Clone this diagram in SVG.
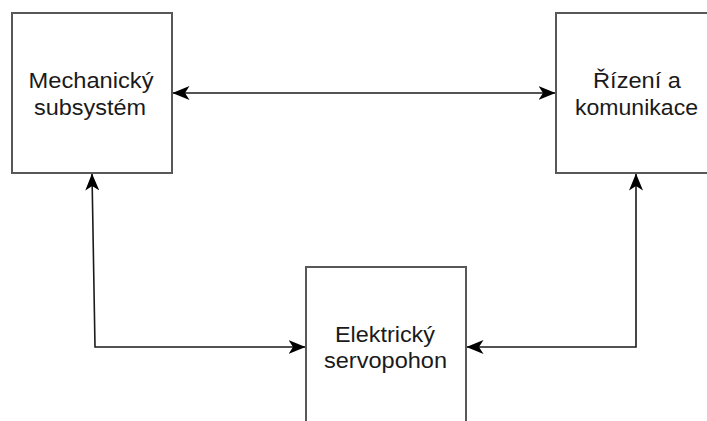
<svg xmlns="http://www.w3.org/2000/svg" width="707" height="421" viewBox="0 0 707 421">
  <defs>
    <marker id="arrow" viewBox="0 0 17 14" refX="16.5" refY="7" markerWidth="17" markerHeight="14" markerUnits="userSpaceOnUse" orient="auto-start-reverse">
      <path d="M17,7 L0,0 L4.5,7 L0,14 Z" fill="#000"/>
    </marker>
    <style>
      .box { fill: #ffffff; stroke: #585858; stroke-width: 2; }
      .link { fill: none; stroke: #1a1a1a; stroke-width: 1.6; marker-start: url(#arrow); marker-end: url(#arrow); }
      .label { font-family: "Liberation Sans", Arial, sans-serif; font-size: 22px; fill: #1a1a1a; text-anchor: middle; }
    </style>
  </defs>
  <rect width="707" height="421" fill="#ffffff"/>

  <g id="connectors">
    <path class="link" d="M173,93 L555,93"/>
    <path class="link" d="M92,174 L95,347 L305,347"/>
    <path class="link" d="M636,174 L636,347 L467,347"/>
  </g>

  <g id="mechanicky-subsystem">
    <rect class="box" x="12" y="13" width="160" height="160"/>
    <text class="label" x="91" y="88" textLength="125" lengthAdjust="spacingAndGlyphs">Mechanický</text>
    <text class="label" x="90" y="115" textLength="112" lengthAdjust="spacingAndGlyphs">subsystém</text>
  </g>

  <g id="rizeni-a-komunikace">
    <rect class="box" x="556" y="13" width="160" height="160"/>
    <text class="label" x="637" y="88" textLength="88" lengthAdjust="spacingAndGlyphs">Řízení a</text>
    <text class="label" x="636.5" y="115" textLength="123" lengthAdjust="spacingAndGlyphs">komunikace</text>
  </g>

  <g id="elektricky-servopohon">
    <rect class="box" x="306" y="267" width="160" height="160"/>
    <text class="label" x="385" y="342" textLength="100" lengthAdjust="spacingAndGlyphs">Elektrický</text>
    <text class="label" x="385.5" y="368" textLength="123" lengthAdjust="spacingAndGlyphs">servopohon</text>
  </g>
</svg>
